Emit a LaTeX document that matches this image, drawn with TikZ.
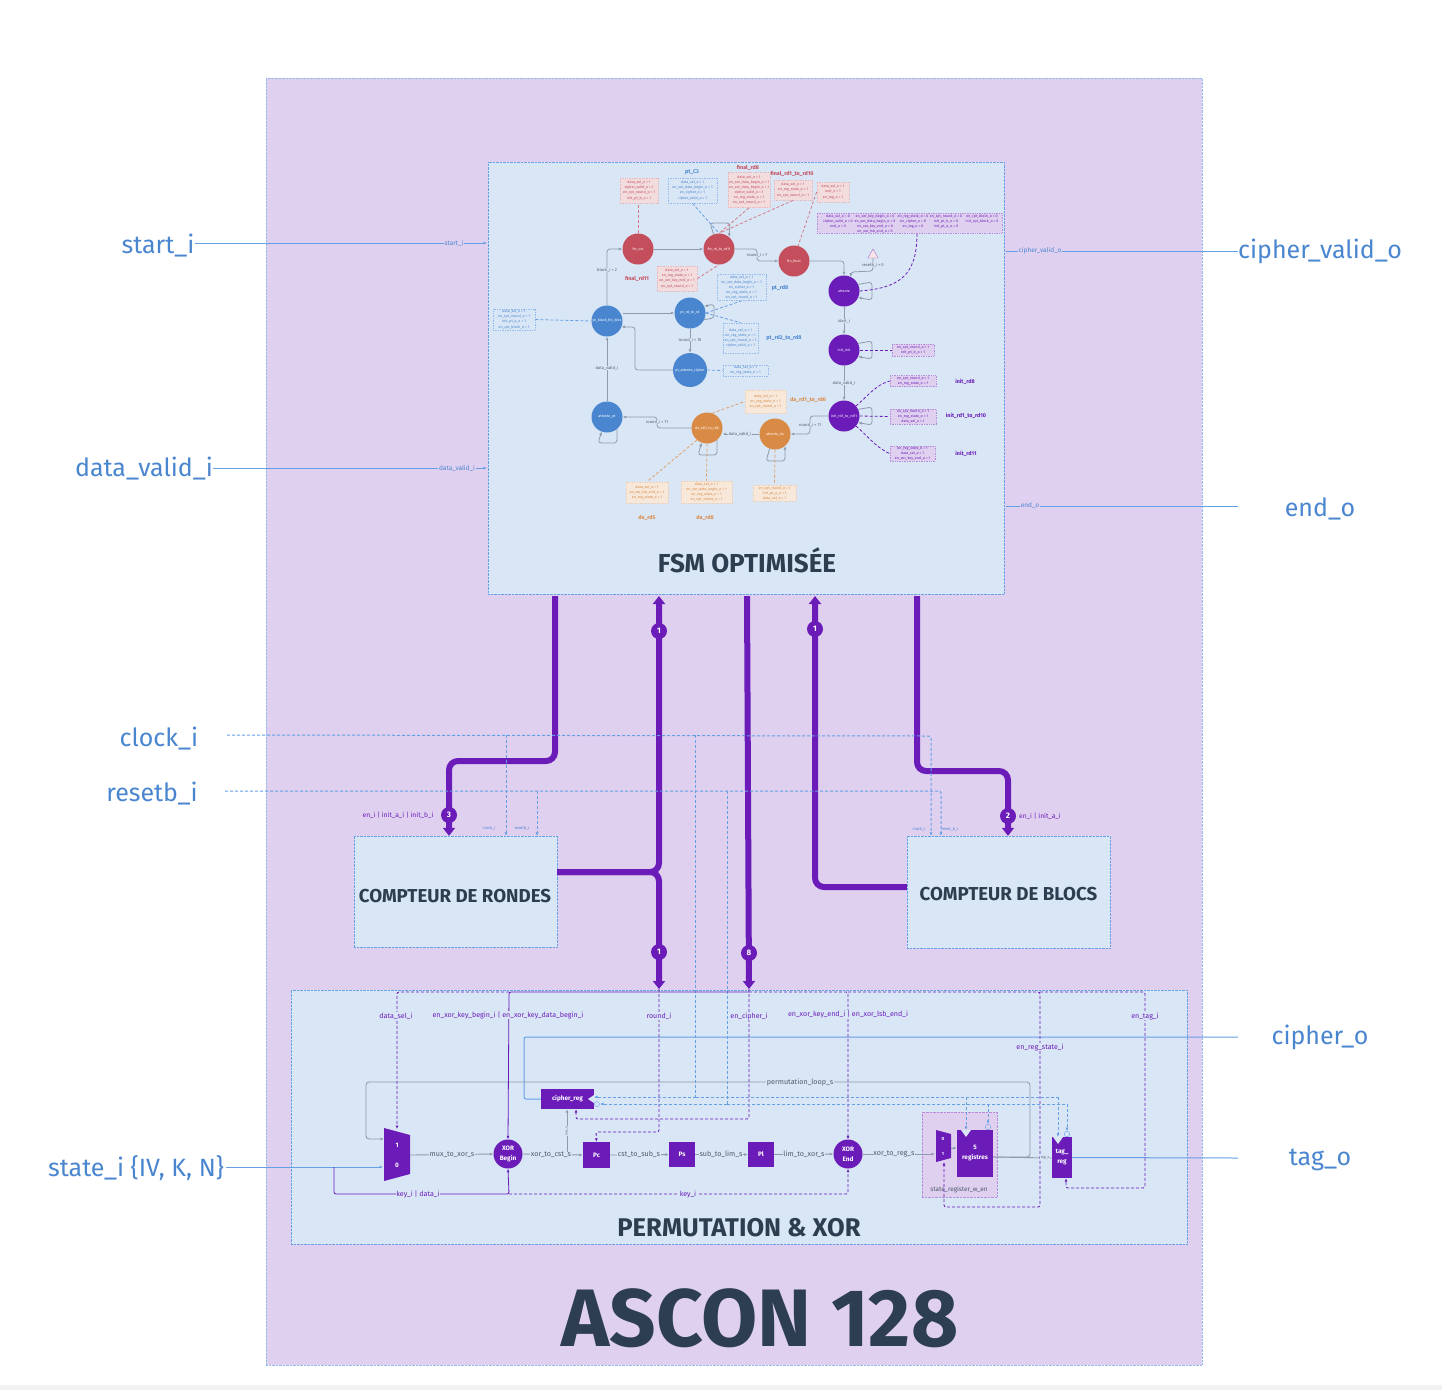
\documentclass[tikz,border=0pt]{standalone}
\usepackage{fontspec}
\usepackage{xcolor}
\usetikzlibrary{arrows.meta, shapes.geometric}
\setmainfont{Fira Sans}

\definecolor{asconbg}{HTML}{E0D0F0}
\definecolor{blockbg}{HTML}{D9E6F6}
\definecolor{viol}{HTML}{6A1BB8}
\definecolor{azur}{HTML}{4A86D0}
\definecolor{azurline}{HTML}{659FE4}
\definecolor{rouge}{HTML}{C44E5C}
\definecolor{orangefsm}{HTML}{D98A45}
\definecolor{ardoise}{HTML}{2C3E50}
\definecolor{wiregray}{HTML}{8E9BAA}
\newcommand{\fsmfont}{\fontsize{3.6}{5.05}\selectfont}
\newcommand{\lblfont}{\fontsize{4.1}{5}\selectfont}
\newcommand{\sigfont}{\fontsize{7.1}{8}\selectfont}

\begin{document}
\begin{tikzpicture}[
    x=1pt, y=-1pt,
    >={Latex[length=3.5pt,width=3pt]},
    block/.style={draw=azurline, densely dotted, fill=blockbg, inner sep=0pt},
    title/.style={font=\bfseries\fontsize{26}{30}\selectfont, text=ardoise, inner sep=0pt},
    extlabel/.style={font=\fontsize{25}{28}\selectfont, text=azur, inner sep=0pt},
    extline/.style={draw=azurline, line width=1pt},
    clockline/.style={draw=azurline, densely dashed, line width=1pt, rounded corners=2pt},
    small/.style={font=\fontsize{6.5}{8}\selectfont, text=azur, fill=blockbg, inner sep=0.6pt},
    tinyclk/.style={font=\fontsize{4}{5}\selectfont, text=azur, inner sep=0pt},
    bus/.style={draw=viol, line width=6pt, rounded corners=9pt},
    bustip/.style={-{Triangle[length=8pt,width=12pt]}},
    badge/.style={circle, fill=viol, text=white, minimum size=16pt, inner sep=0pt, font=\bfseries\fontsize{8}{9}\selectfont},
    state/.style={circle, minimum size=31pt, inner sep=0pt, text=white, font=\fsmfont},
    sigbox/.style={densely dotted, line width=0.7pt, inner sep=0pt, align=center, font=\fsmfont},
    redbox/.style={sigbox, draw=rouge!40, fill=rouge!20, text=rouge},
    bluebox/.style={sigbox, draw=azurline!70, fill=blockbg, text=azur},
    orangebox/.style={sigbox, draw=orangefsm!40, fill=orangefsm!20, text=orangefsm},
    violbox/.style={sigbox, draw=viol!50, fill=asconbg, text=viol},
    fsmname/.style={font=\bfseries\fontsize{5.4}{6}\selectfont, inner sep=0pt},
    wire/.style={draw=wiregray, line width=0.8pt, rounded corners=3pt},
    wirelabel/.style={font=\lblfont, text=ardoise!85, fill=blockbg, inner sep=0.5pt},
    dashout/.style={densely dashed, line width=0.8pt},
    sig/.style={draw=viol, line width=0.8pt, rounded corners=2pt},
    dsig/.style={sig, densely dashed},
    siglabel/.style={font=\sigfont, text=viol, fill=blockbg, inner sep=0.6pt},
    datalabel/.style={font=\fontsize{7.2}{8}\selectfont, text=ardoise!85, fill=blockbg, inner sep=0.6pt},
    dwire/.style={draw=wiregray, line width=0.9pt},
    oper/.style={fill=viol, text=white, inner sep=0pt, align=center, font=\bfseries\fontsize{6.4}{10}\selectfont},
    clktri/.style={fill=blockbg, draw=none}
]

% fond
\useasboundingbox (0,0) rectangle (1442,1390);
\fill[white] (0,0) rectangle (1442,1390);
\fill[black!5] (0,1385) rectangle (1442,1390);
\node[draw=azurline!70, densely dotted, fill=asconbg, minimum width=936pt, minimum height=1287pt, inner sep=0pt] (ascon) at (734,721.5) {};
\node[block, minimum width=516pt, minimum height=432pt] (fsm) at (746,378) {};
\node[block, minimum width=203pt, minimum height=111pt] (cptrondes) at (455.5,891.5) {};
\node[block, minimum width=203pt, minimum height=112pt] (cptblocs) at (1008.5,892) {};
\node[block, minimum width=896pt, minimum height=254pt] (perm) at (739,1117) {};

\node[title, font=\bfseries\fontsize{81.5}{84}\selectfont] (asconname) at (760,1318) {ASCON 128};
\node[title] (fsmtitle) at (747,560.5) {FSM OPTIMISÉE};
\node[title, font=\bfseries\fontsize{18.7}{22}\selectfont] (rondestitle) at (455,896) {COMPTEUR DE RONDES};
\node[title, font=\bfseries\fontsize{18.7}{22}\selectfont] (blocstitle) at (1008.5,894) {COMPTEUR DE BLOCS};
\node[title, font=\bfseries\fontsize{25.6}{30}\selectfont] (permtitle) at (739,1228) {PERMUTATION \& XOR};

% signaux externes
\node[extlabel] (starti) at (158,246) {start\_i};
\node[extlabel] (datavalidi) at (144,469) {data\_valid\_i};
\node[extlabel] (clocki) at (159,739) {clock\_i};
\node[extlabel] (resetbi) at (152,794) {resetb\_i};
\node[extlabel] (statei) at (136,1168) {state\_i \{IV, K, N\}};
\node[extlabel] (ciphervalido) at (1320,251) {cipher\_valid\_o};
\node[extlabel] (endo) at (1320,509) {end\_o};
\node[extlabel] (ciphero) at (1320,1037) {cipher\_o};
\node[extlabel] (tago) at (1320,1160) {tag\_o};

\coordinate (fsmstart) at (487,243);
\coordinate (fsmvalid) at (487,468);
\coordinate (fsmcv) at (1006,251);
\coordinate (fsmend) at (1006,506);
\coordinate (outcv) at (1238,251);
\coordinate (outend) at (1238,506);

\draw[extline, ->] (starti.east |- fsmstart) -- (fsmstart);
\draw[extline, ->] (datavalidi.east |- fsmvalid) -- (fsmvalid);
\draw[extline] (fsmcv) -- (outcv);
\draw[extline] (fsmend) -- (outend);
\node[small, fill=asconbg] (lstart) at (454,243) {start\_i};
\node[small, fill=asconbg] (lvalid) at (457,468) {data\_valid\_i};
\node[small, fill=asconbg] (lcv) at (1040,251) {cipher\_valid\_o};
\node[small, fill=asconbg] (lend) at (1030,506) {end\_o};

% etats de la FSM
\node[state, fill=rouge] (fincst) at (638,249) {fin\_cst};
\node[state, fill=rouge] (finrd) at (719,249) {fin\_rd\_to\_rd11};
\node[state, fill=rouge] (finfinal) at (794,261) {fin\_final};
\node[state, fill=viol] (attente) at (844,291) {attente};
\node[state, fill=viol] (initinit) at (844,350) {init\_init};
\node[state, fill=viol] (initrd) at (844,416) {init\_rd1\_to\_rd11};
\node[state, fill=orangefsm] (attda) at (775,434) {attente\_da};
\node[state, fill=orangefsm] (dard) at (707,428) {da\_rd0\_to\_rd6};
\node[state, fill=azur] (attpt) at (607,417) {attente\_pt};
\node[state, fill=azur] (ptblock) at (607,321) {pt\_block\_fin\_bloc};
\node[state, fill=azur] (ptrd) at (690,313) {pt\_rd\_to\_rd};
\node[state, fill=azur, minimum size=34pt] (ptatt) at (690,370) {pt\_attente\_cipher};
\node[draw=viol!60, fill=rouge!15, regular polygon, regular polygon sides=3, minimum size=12pt, inner sep=0pt] (resetmark) at (873,255) {};

% sorties des etats
\node[redbox, minimum width=38pt, minimum height=25pt] (bfincst) at (639,190.5) {data\_sel\_o = 1\\cipher\_valid\_o = 1\\en\_cpt\_round\_o = 1\\init\_pt\_b\_o = 1};
\node[bluebox, minimum width=49pt, minimum height=25pt] (bptcthree) at (692.5,190.5) {data\_sel\_o = 1\\en\_xor\_data\_begin\_o = 1\\en\_cipher\_o = 1\\cipher\_valid\_o = 1};
\node[redbox, minimum width=42pt, minimum height=35pt] (bfineight) at (749,190) {data\_sel\_o = 1\\en\_xor\_data\_begin\_o = 1\\en\_xor\_data\_begin\_o = 1\\cipher\_valid\_o = 1\\en\_reg\_state\_o = 1\\en\_cpt\_round\_o = 1};
\node[redbox, minimum width=38pt, minimum height=20pt] (bfinten) at (793,190) {data\_sel\_o = 1\\en\_reg\_state\_o = 1\\en\_cpt\_round\_o = 1};
\node[redbox, minimum width=32pt, minimum height=20pt] (bfinend) at (833,192) {data\_sel\_o = 1\\end\_o = 1\\en\_tag\_o = 1};
\node[redbox, minimum width=40pt, minimum height=25pt] (bfineleven) at (677,278.5) {data\_sel\_o = 1\\en\_reg\_state\_o = 1\\en\_xor\_key\_end\_o = 1\\en\_cpt\_round\_o = 1};
\node[bluebox, minimum width=49pt, minimum height=26pt] (bpteight) at (741.5,287.5) {data\_sel\_o = 1\\en\_xor\_data\_begin\_o = 1\\en\_cipher\_o = 1\\en\_reg\_state\_o = 1\\en\_cpt\_round\_o = 1};
\node[bluebox, minimum width=35pt, minimum height=30pt] (bpttwo) at (740.5,338) {data\_sel\_o = 1\\en\_reg\_state\_o = 1\\en\_cpt\_round\_o = 1\\cipher\_valid\_o = 1};
\node[bluebox, minimum width=42pt, minimum height=21pt] (bptblock) at (514,319.5) {data\_sel\_o = 1\\en\_cpt\_round\_o = 1\\init\_pt\_a\_o = 1\\en\_cpt\_block\_o = 1};
\node[bluebox, minimum width=45pt, minimum height=11pt] (bptatt) at (745.5,370.5) {data\_sel\_o = 1\\en\_reg\_state\_o = 1};
\node[orangebox, minimum width=41pt, minimum height=23pt] (bdasix) at (765.5,401.5) {data\_sel\_o = 1\\en\_reg\_state\_o = 1\\en\_cpt\_round\_o = 1};
\node[orangebox, minimum width=42pt, minimum height=21pt] (bdafive) at (647,492.5) {data\_sel\_o = 1\\en\_xor\_lsb\_end\_o = 1\\en\_reg\_state\_o = 1};
\node[orangebox, minimum width=51pt, minimum height=22pt] (bdaeight) at (706.5,492) {data\_sel\_o = 1\\en\_xor\_data\_begin\_o = 1\\en\_reg\_state\_o = 1\\en\_cpt\_round\_o = 1};
\node[orangebox, minimum width=43pt, minimum height=16pt] (battda) at (774.5,493) {en\_cpt\_round\_o = 1\\init\_pt\_a\_o = 1\\data\_sel\_o = 1};
\node[violbox, minimum width=185pt, minimum height=20pt] (bidle) at (909.5,223) {};
\node[violbox, draw=none, fill=none, anchor=north] (idlea) at (838,214.5) {data\_sel\_o = 0\\cipher\_valid\_o = 0\\end\_o = 0};
\node[violbox, draw=none, fill=none, anchor=north] (idleb) at (875,214.5) {en\_xor\_key\_begin\_o = 0\\en\_xor\_data\_begin\_o = 0\\en\_xor\_key\_end\_o = 0\\en\_xor\_lsb\_end\_o = 0};
\node[violbox, draw=none, fill=none, anchor=north] (idlec) at (913,214.5) {en\_reg\_state\_o = 0\\en\_cipher\_o = 0\\en\_tag\_o = 0};
\node[violbox, draw=none, fill=none, anchor=north] (idled) at (946,214.5) {en\_cpt\_round\_o = 0\\init\_pt\_b\_o = 0\\init\_pt\_a\_o = 0};
\node[violbox, draw=none, fill=none, anchor=north] (idlee) at (982,214.5) {en\_cpt\_block\_o = 0\\init\_cpt\_block\_o = 0};
\node[violbox, minimum width=42pt, minimum height=12pt] (binitinit) at (913,350) {en\_cpt\_round\_o = 1\\init\_pt\_b\_o = 1};
\node[violbox, minimum width=46pt, minimum height=11pt] (binite) at (913,381) {en\_cpt\_round\_o = 1\\en\_reg\_state\_o = 1};
\node[violbox, minimum width=46pt, minimum height=15pt] (binitt) at (913,416.5) {en\_cpt\_round\_o = 1\\en\_reg\_state\_o = 1\\data\_sel\_o = 1};
\node[violbox, minimum width=45pt, minimum height=15pt] (biniteleven) at (912.5,453.5) {en\_reg\_state\_o = 1\\data\_sel\_o = 1\\en\_xor\_key\_end\_o = 1};

% noms des sorties
\node[fsmname, text=azur] (nptc) at (692,172) {pt\_C3};
\node[fsmname, text=rouge] (nfe) at (748,168) {final\_rd8};
\node[fsmname, text=rouge] (nft) at (792,174) {final\_rd1\_to\_rd10};
\node[fsmname, text=rouge] (nfel) at (637,279) {final\_rd11};
\node[fsmname, text=azur] (npe) at (780,288) {pt\_rd8};
\node[fsmname, text=azur] (npt) at (784,338) {pt\_rd2\_to\_rd8};
\node[fsmname, text=orangefsm] (ndas) at (808,400) {da\_rd1\_to\_rd6};
\node[fsmname, text=orangefsm] (ndaf) at (647,518) {da\_rd5};
\node[fsmname, text=orangefsm] (ndae) at (705,518) {da\_rd8};
\node[fsmname, text=viol] (nie) at (965,382) {init\_rd8};
\node[fsmname, text=viol] (nit) at (966,416) {init\_rd1\_to\_rd10};
\node[fsmname, text=viol] (niel) at (966,454) {init\_rd11};

% transitions
\draw[wire, ->] (ptblock.north) |- (fincst.west);
\draw[wire, ->] (fincst.east) -- (finrd.west);
\draw[wire, ->] (finrd.east) -- (757,249) -- (757,261) -- (finfinal.west);
\draw[wire, ->] (finfinal.east) -| (attente.north);
\draw[wire, ->] (attente.south) -- (initinit.north);
\draw[wire, ->] (initinit.south) -- (initrd.north);
\draw[wire, ->] (initrd.west) -- (810,416) -- (810,434) -- (attda.east);
\draw[wire, ->] (attda.west) -- (dard.east |- attda.west);
\draw[wire, ->] (dard.west) -- (657,428) -- (657,417) -- (attpt.east);
\draw[wire, ->] (attpt.north) -- (ptblock.south);
\draw[wire, ->] (ptblock.east |- ptrd.west) -- (ptrd.west);
\draw[wire, ->] (ptrd.south) -- (ptatt.north);
\draw[wire, ->] (ptatt.west) -- (635,370) -- (635,327) -- (ptblock.-22);
\draw[wire, ->] (resetmark.south) -- (873,271) -- (851,272) -- (attente.65);
\draw[wire, ->] (finrd.110) -- (710,223) -- (730,223) -- (finrd.50);
\draw[wire, ->] (attente.25) -- (872,282) -- (872,300) -- (attente.-25);
\draw[wire, ->] (initinit.25) -- (872,341) -- (872,359) -- (initinit.-25);
\draw[wire, ->] (initrd.25) -- (872,407) -- (872,425) -- (initrd.-25);
\draw[wire, ->] (attda.-110) -- (766,461) -- (785,461) -- (attda.-50);
\draw[wire, ->] (dard.-50) -- (717,455) -- (698,455) -- (dard.-110);
\draw[wire, ->] (attpt.-50) -- (617,443) -- (598,443) -- (attpt.-110);
\draw[wire, ->] (ptrd.-25) -- (714,318) -- (714,304) -- (ptrd.25);

\node[wirelabel] (tblock) at (607,270) {block\_i = 2};
\node[wirelabel] (tround) at (690,340) {round\_i = 10};
\node[wirelabel] (tvalida) at (607,368) {data\_valid\_i};
\node[wirelabel] (troundb) at (657,422) {round\_i = 11};
\node[wirelabel] (tvalidb) at (740,434) {data\_valid\_i};
\node[wirelabel] (troundc) at (810,425) {round\_i = 11};
\node[wirelabel] (tvalidc) at (844,383) {data\_valid\_i};
\node[wirelabel] (tstart) at (844,321) {start\_i};
\node[wirelabel] (troundd) at (757,255) {round\_i = 7};
\node[wirelabel] (treset) at (873,265) {resetb\_i = 0};

% liens etat vers sorties
\draw[dashout, rouge!75] (fincst.north) -- (bfincst.south -| fincst.north);
\draw[dashout, azurline] (bptcthree.south) -- (finrd.north);
\draw[dashout, rouge!75] (bfineight.south) -- (finrd.north);
\draw[dashout, rouge!75] (bfinten.south) -- (finrd.north);
\draw[dashout, rouge!75] (bfineleven.east) -- (finrd.south);
\draw[dashout, rouge!75] (bfinend.west) -- (finfinal.75);
\draw[dashout, azurline] (bptblock.east) -- (ptblock.west);
\draw[dashout, azurline] (ptrd.east) -- (bpteight.south);
\draw[dashout, azurline] (ptrd.east) -- (bpttwo.north);
\draw[dashout, azurline] (ptatt.east) -- (bptatt.west);
\draw[dashout, orangefsm!80] (dard.north) ++(5,1) -- (bdasix.west);
\draw[dashout, orangefsm!80] (dard.-130) -- (bdafive.north);
\draw[dashout, orangefsm!80] (dard.south) -- (bdaeight.north);
\draw[dashout, orangefsm!80] (attda.south) -- (battda.north);
\draw[dashout, viol] (attente.east) .. controls (900,288) and (917,275) .. (bidle.south -| 917,0);
\draw[dashout, viol] (initinit.east) -- (binitinit.west);
\draw[dashout, viol] (initrd.40) .. controls (866,398) and (875,385) .. (binite.west);
\draw[dashout, viol] (initrd.east) -- (binitt.west);
\draw[dashout, viol] (initrd.-40) .. controls (866,434) and (875,447) .. (biniteleven.west);

% bus
\coordinate (busround) at (555,596);
\coordinate (buscipher) at (747,596);
\coordinate (busblock) at (917,596);
\coordinate (tipfsma) at (659,596);
\coordinate (tipfsmb) at (815,596);
\coordinate (tipperma) at (659,989);
\coordinate (tippermb) at (749,989);
\draw[bus, bustip] (busround) -- (555,761) -- (449,761) -- (cptrondes.north -| 449,0);
\draw[bus, bustip] (cptrondes.east |- 0,872) -- (659,872) -- (tipfsma);
\draw[bus, bustip] (cptrondes.east |- 0,872) -- (659,872) -- (tipperma);
\draw[bus, bustip] (buscipher) -- (tippermb);
\draw[bus, bustip] (cptblocs.west |- 0,887) -- (815,887) -- (tipfsmb);
\draw[bus, bustip] (busblock) -- (917,771) -- (1008,771) -- (cptblocs.north -| 1008,0);
\node[badge] (bthree) at (449,815) {3};
\node[badge] (bonea) at (659,631) {1};
\node[badge] (boneb) at (815,629) {1};
\node[badge] (btwo) at (1008,816) {2};
\node[badge] (bonec) at (659,952) {1};
\node[badge] (beight) at (749,953) {8};
\node[siglabel, font=\fontsize{6.7}{8}\selectfont, fill=none] (lenround) at (398,815) {en\_i | init\_a\_i | init\_b\_i};
\node[siglabel, font=\fontsize{6.7}{8}\selectfont, fill=none] (lenblock) at (1040,816) {en\_i | init\_a\_i};

% horloge et reset
\coordinate (clkstart) at (227,735);
\coordinate (rststart) at (225,791);
\draw[clockline, ->] (clkstart) -- (931,736) -- (cptblocs.north -| 931,0);
\draw[clockline, ->] (rststart) -- (941,791) -- (cptblocs.north -| 941,0);
\draw[clockline, ->] (506,735) -- (cptrondes.north -| 506,0);
\draw[clockline, ->] (537,791) -- (cptrondes.north -| 537,0);
\draw[clockline] (695,735) -- (695,1097);
\draw[clockline] (727,791) -- (727,1104);
\node[tinyclk] (lclka) at (489,828) {clock\_i};
\node[tinyclk] (lrsta) at (522,828) {resetb\_i};
\node[tinyclk] (lclkb) at (919,829) {clock\_i};
\node[tinyclk] (lrstb) at (950,829) {reset\_b\_i};

% chemin de donnees
\node[draw=viol!50, densely dotted, fill=asconbg, minimum width=75pt, minimum height=85pt, inner sep=0pt] (stategroup) at (959.5,1154.5) {};
\node[font=\fontsize{6.4}{8}\selectfont, text=ardoise!85, inner sep=0pt] (stategrouplabel) at (959,1190) {state\_register\_w\_en};

\fill[viol] (384,1128) -- (410,1135) -- (410,1174) -- (384,1181) -- cycle;
\node[oper, fill=none] (muxone) at (397,1145) {1};
\node[oper, fill=none] (muxzero) at (397,1165) {0};
\node[oper, circle, minimum size=29pt] (xorbegin) at (508,1154) {XOR\\Begin};
\node[oper, minimum width=27pt, minimum height=26pt] (pc) at (596.5,1155) {Pc};
\node[oper, minimum width=26pt, minimum height=25pt] (ps) at (682,1154.5) {Ps};
\node[oper, minimum width=26pt, minimum height=25pt] (pl) at (761,1154.5) {Pl};
\node[oper, circle, minimum size=29pt] (xorend) at (848,1154) {XOR\\End};
\fill[viol] (936,1130) -- (951,1134) -- (951,1158) -- (936,1162) -- cycle;
\node[oper, fill=none, font=\bfseries\fontsize{4.5}{6}\selectfont] (muxrega) at (943,1139) {0};
\node[oper, fill=none, font=\bfseries\fontsize{4.5}{6}\selectfont] (muxregb) at (943,1154) {1};
\node[oper, minimum width=36pt, minimum height=47pt] (regs) at (975,1153.5) {5\\registres};
\node[oper, minimum width=20pt, minimum height=41pt] (tagreg) at (1062,1157.5) {tag\_\\reg};
\node[oper, minimum width=53pt, minimum height=20pt] (cipherreg) at (567.5,1099) {cipher\_reg};
\fill[clktri] (594,1095) -- (588,1099) -- (594,1103) -- cycle;
\fill[clktri] (961,1130) -- (971,1130) -- (966,1137) -- cycle;
\fill[clktri] (1053,1137) -- (1063,1137) -- (1058,1144) -- cycle;
\node[circle, draw=azurline, fill=blockbg, minimum size=5pt, inner sep=0pt] (rstcipher) at (597,1104) {};
\node[circle, draw=azurline, fill=asconbg, minimum size=5.5pt, inner sep=0pt] (rstregs) at (988,1127) {};
\node[circle, draw=azurline, fill=blockbg, minimum size=5.5pt, inner sep=0pt] (rsttag) at (1067,1134) {};

\coordinate (permstate) at (226,1167);
\coordinate (regout) at (993,1157);
\coordinate (tagin) at (1052,1158);
\coordinate (outcipher) at (1238,1037);
\coordinate (outtag) at (1238,1158);
\coordinate (muxdata) at (384,1139);
\coordinate (muxkey) at (383,1167);

\draw[dwire, ->] (410,1155) -- (xorbegin.west);
\draw[dwire, ->] (xorbegin.east) -- (pc.west);
\draw[dwire, ->] (567,1155) -- (cipherreg.south -| 567,0);
\draw[dwire, ->] (pc.east) -- (ps.west);
\draw[dwire, ->] (ps.east) -- (pl.west);
\draw[dwire, ->] (pl.east) -- (xorend.west);
\draw[dwire, ->] (xorend.east) -- (935,1154);
\draw[dwire, ->] (951,1148) -- (regs.west |- 0,1148);
\draw[dwire, ->] (regout) -- (tagin);
\draw[dwire, rounded corners=3pt, ->] (regout) -- (1030,1157) -- (1030,1082) -- (366,1082) -- (366,1139) -- (muxdata);

\draw[extline, ->] (permstate) -- (muxkey);
\draw[extline, rounded corners=2pt] (cipherreg.west) -- (524,1099) -- (524,1037) -- (outcipher);
\draw[extline] (tagreg.east) -- (outtag);

\draw[sig, ->] (334,1167) -- (334,1194) -- (509,1194) -- (xorbegin.south);
\draw[dsig, ->] (509,1194) -- (848,1194) -- (xorend.south);
\draw[dsig, ->] (509,992) -- (397,992) -- (397,1129);
\draw[sig, ->] (tippermb |- 0,992) -- (509,992) -- (xorbegin.north);
\draw[dsig, ->] (tipperma) -- (659,1132) -- (596,1132) -- (pc.north);
\draw[dsig, ->] (tippermb) -- (749,1119) -- (576,1119) -- (cipherreg.south -| 576,0);
\draw[dsig, ->] (749,992) -- (848,992) -- (xorend.north);
\draw[dsig, ->] (848,992) -- (1040,992) -- (1040,1207) -- (944,1207) -- (944,1162);
\draw[dsig, ->] (1040,992) -- (1145,992) -- (1145,1188) -- (1066,1188) -- (tagreg.south -| 1066,0);

\draw[clockline, ->] (696,1097) -- (594,1097);
\draw[clockline, ->] (727,1104) -- (600,1104);
\draw[clockline] (696,1097) -- (1058,1097);
\draw[clockline] (727,1104) -- (1067,1104);
\draw[clockline, ->] (966,1097) -- (regs.north -| 966,0);
\draw[clockline, ->] (988,1104) -- (rstregs.north);
\draw[clockline, ->] (1058,1097) -- (tagreg.north -| 1058,0);
\draw[clockline, ->] (1067,1104) -- (rsttag.north);

\node[datalabel] (lmux) at (452,1155) {mux\_to\_xor\_s};
\node[datalabel] (lxor) at (551,1155) {xor\_to\_cst\_s};
\node[datalabel] (lcst) at (639,1154) {cst\_to\_sub\_s};
\node[datalabel] (lsub) at (721,1154) {sub\_to\_lim\_s};
\node[datalabel] (llim) at (804,1154) {lim\_to\_xor\_s};
\node[datalabel] (lreg) at (894,1154) {xor\_to\_reg\_s};
\node[datalabel] (lloop) at (800,1082) {permutation\_loop\_s};
\node[datalabel, font=\fontsize{3.5}{4}\selectfont, rotate=90] (lcipherin) at (567,1131) {xor\_s};
\node[datalabel, font=\fontsize{3.5}{4}\selectfont] (ltagin) at (1045,1158) {reg\_s};
\node[siglabel] (ldatasel) at (396,1016) {data\_sel\_i};
\node[siglabel] (lxorbegin) at (508,1015) {en\_xor\_key\_begin\_i | en\_xor\_key\_data\_begin\_i};
\node[siglabel] (lroundi) at (659,1016) {round\_i};
\node[siglabel] (lencipher) at (749,1016) {en\_cipher\_i};
\node[siglabel] (lxorend) at (848,1014) {en\_xor\_key\_end\_i | en\_xor\_lsb\_end\_i};
\node[siglabel] (lenreg) at (1040,1047) {en\_reg\_state\_i};
\node[siglabel] (lentag) at (1145,1016) {en\_tag\_i};
\node[siglabel] (lkeydata) at (418,1194) {key\_i | data\_i};
\node[siglabel] (lkey) at (688,1194) {key\_i};

\end{tikzpicture}
\end{document}
